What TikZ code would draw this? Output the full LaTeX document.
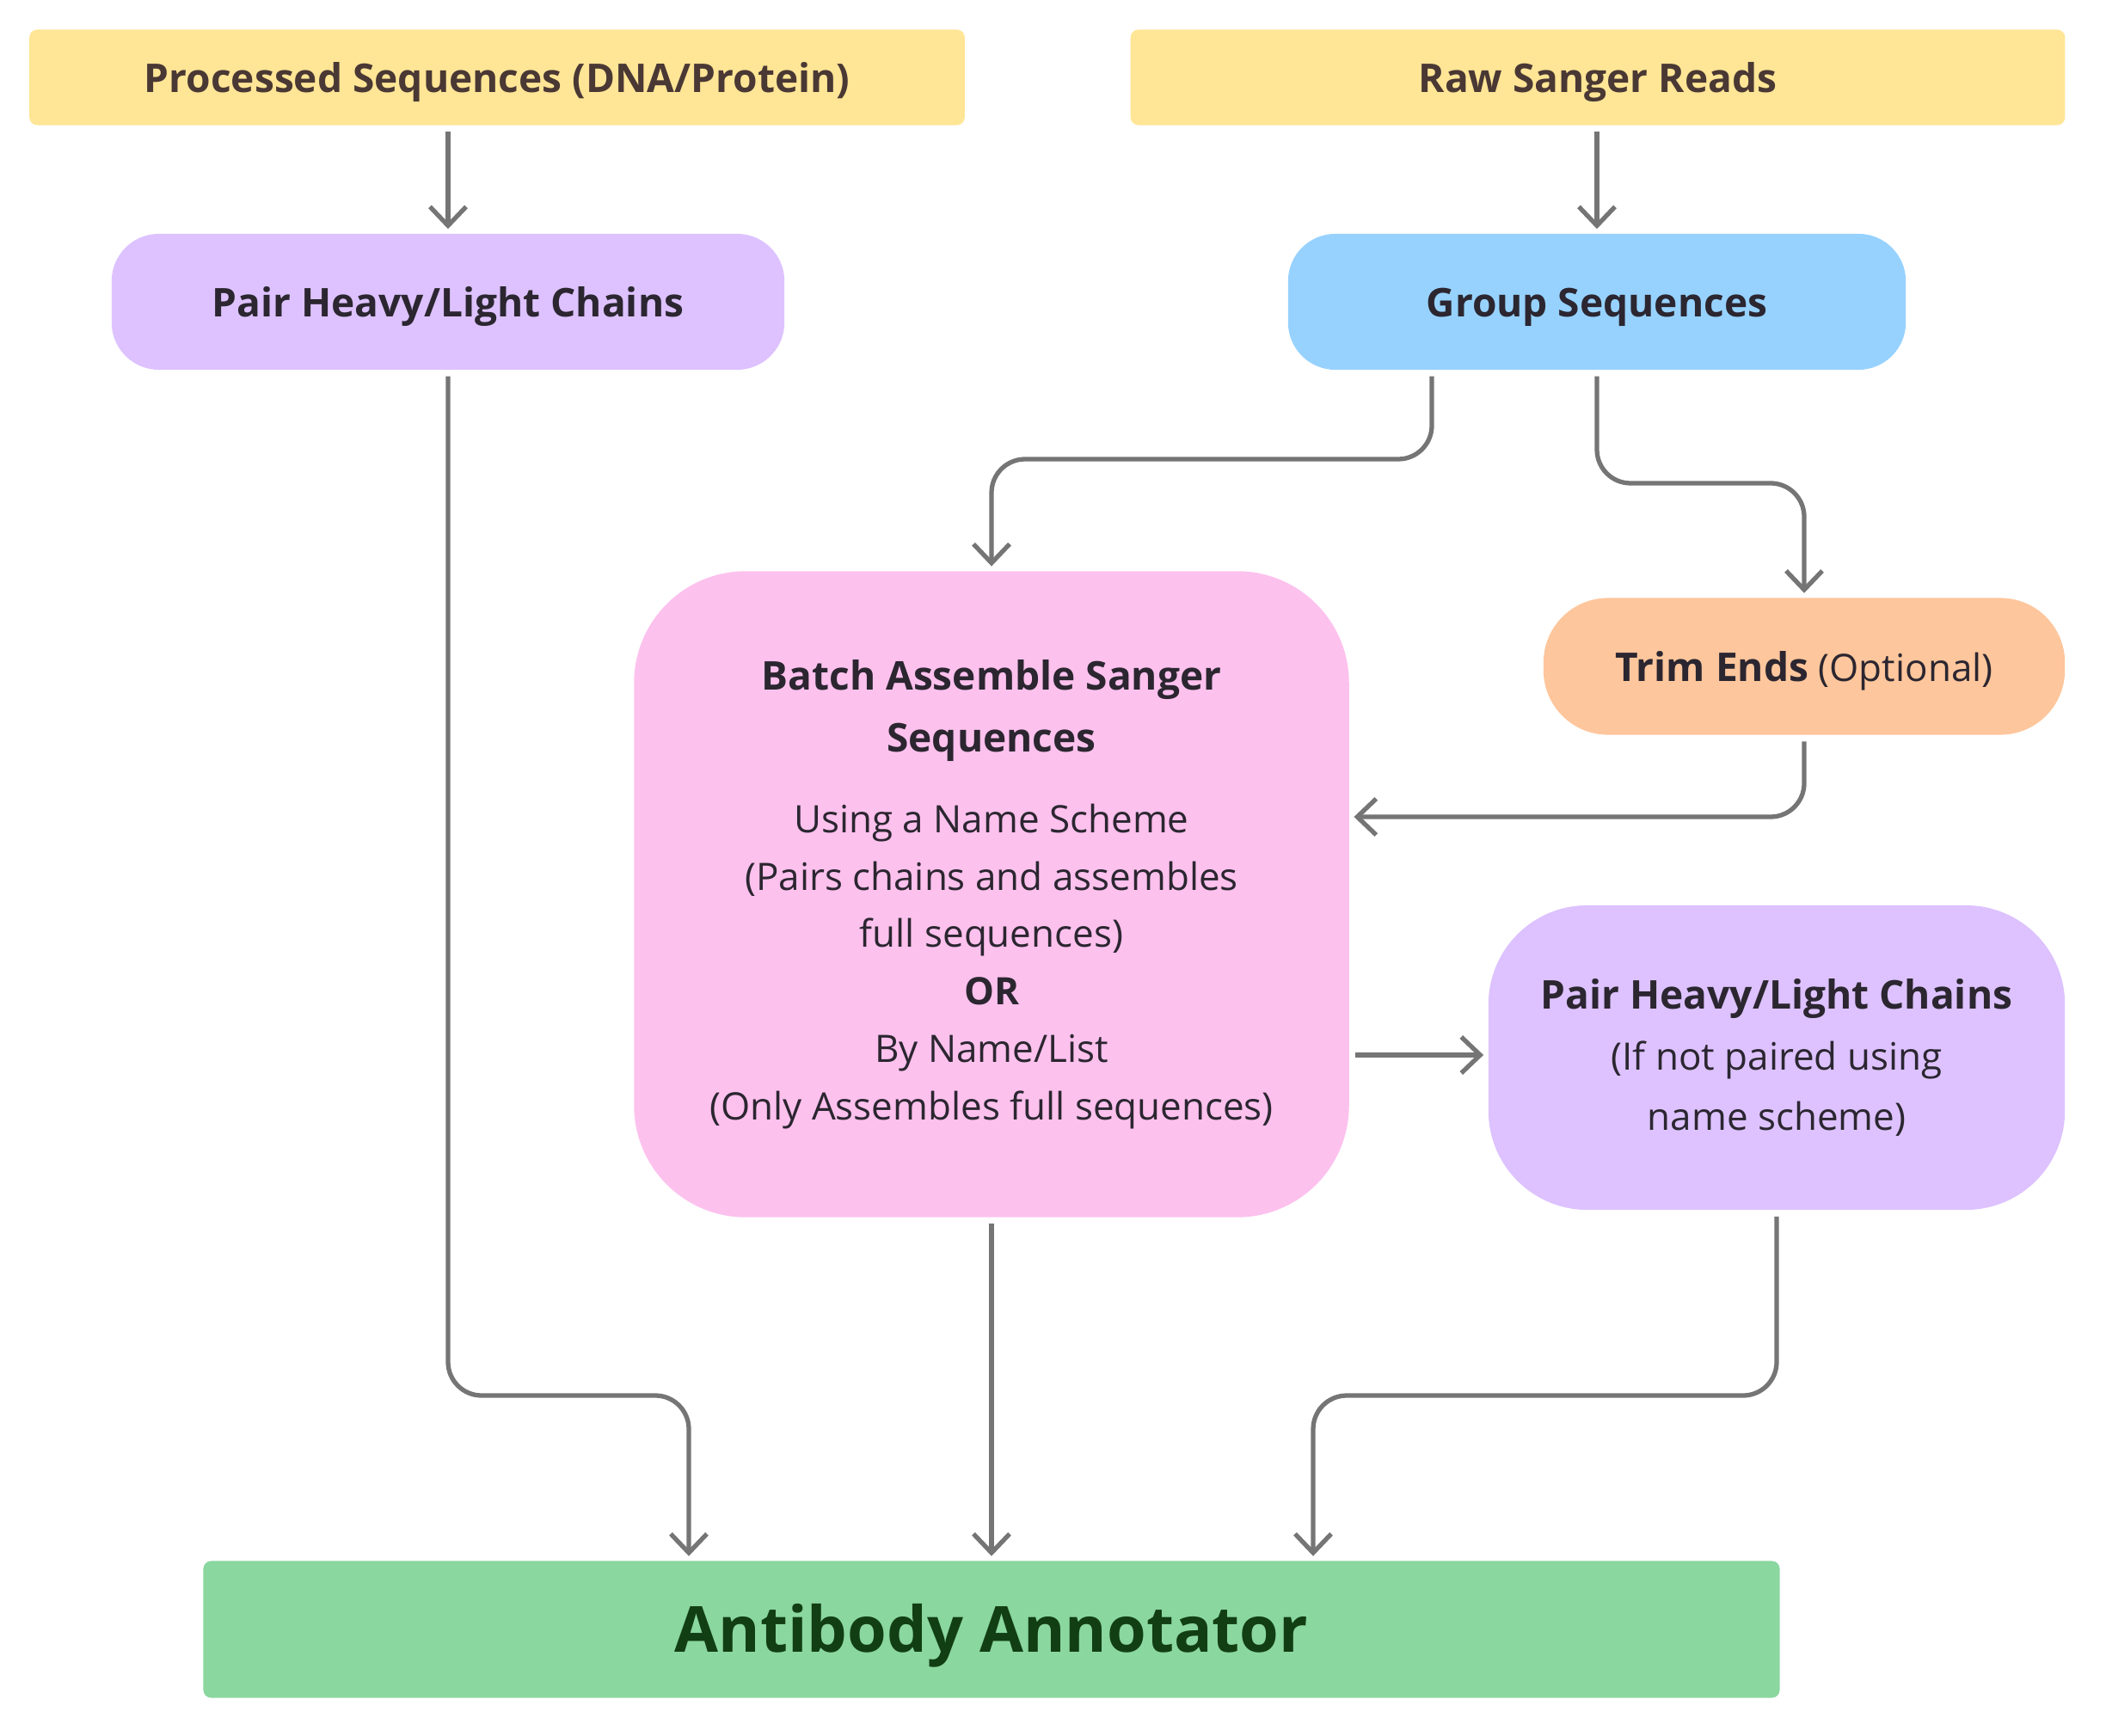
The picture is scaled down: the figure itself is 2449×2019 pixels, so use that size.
\documentclass[tikz,border=0pt]{standalone}
\usepackage{fontspec}
\setmainfont{Open Sans}
\usetikzlibrary{arrows.meta}
\definecolor{inyellow}{HTML}{FFE596}
\definecolor{lilac}{HTML}{DDC2FF}
\definecolor{sky}{HTML}{97D2FF}
\definecolor{blush}{HTML}{FDC1EE}
\definecolor{peach}{HTML}{FEC69C}
\definecolor{mint}{HTML}{8AD79F}
\definecolor{wire}{HTML}{757575}
\definecolor{ink}{HTML}{2B2630}
\newcommand{\hd}[1]{{\bfseries\fontsize{13.1}{20}\selectfont #1}}

\begin{document}
\begin{tikzpicture}[x=0.01cm,y=-0.01cm,line join=round,
    stage/.style={inner sep=0pt,align=center,text=ink,
      font=\fontsize{12.5}{20}\selectfont},
    oneline/.style={text height=9.8pt,text depth=0pt},
    inbox/.style={stage,oneline,fill=inyellow,rounded corners=0.9mm,
      minimum height=1.11cm,text=ink!80!brown},
    conn/.style={draw=wire,line width=1.5pt,rounded corners=3.9mm,
      -{Straight Barb[length=2.2mm,width=4.2mm,line width=1.5pt]},
      shorten <=0.7mm,shorten >=0.5mm}]
    \useasboundingbox (0,0) rectangle (2449,2019);
    % inputs
    \node[inbox,minimum width=10.87cm] (psq) at (578,90) {\hd{Processed Sequences (DNA/Protein)}};
    \node[inbox,minimum width=10.86cm] (raw) at (1858,90) {\hd{Raw Sanger Reads}};
    % steps
    \node[stage,oneline,fill=lilac,minimum width=7.82cm,minimum height=1.58cm,rounded corners=5.5mm]
      (pl) at (521,351) {\hd{Pair Heavy/Light Chains}};
    \node[stage,oneline,fill=sky,minimum width=7.18cm,minimum height=1.58cm,rounded corners=5.5mm]
      (grp) at (1857,351) {\hd{Group Sequences}};
    \node[stage,oneline,fill=peach,minimum width=6.06cm,minimum height=1.59cm,rounded corners=7.5mm]
      (trim) at (2098,775) {\hd{Trim Ends} (Optional)};
    \node[stage,fill=blush,minimum width=8.31cm,minimum height=7.51cm,rounded corners=13mm]
      (bat) at (1153,1040) {\hd{Batch Assemble Sanger}\\[0.7pt]
      \hd{Sequences}\\[6.6pt]
      Using a Name Scheme\\[-1pt](Pairs chains and assembles\\[-1pt]full sequences)\\[-1pt]
      \textbf{OR}\\[-1pt]By Name/List\\[-1pt](Only Assembles full sequences)};
    \node[stage,fill=lilac,minimum width=6.70cm,minimum height=3.54cm,rounded corners=11.5mm]
      (pr) at (2066,1230) {\hd{Pair Heavy/Light Chains}\\(If not paired using\\name scheme)};
    \node[stage,fill=mint,minimum width=18.32cm,minimum height=1.59cm,rounded corners=0.9mm,
      text height=15.2pt,text depth=0pt,
      text=ink!70!green!60!black,font=\bfseries\fontsize{21}{25}\selectfont]
      (ann) at (1153,1895) {Antibody Annotator};
    % flow
    \draw[conn] (psq.south -| pl.north) -- (pl.north);
    \draw[conn] (raw.south -| grp.north) -- (grp.north);
    \draw[conn] (1665,0 |- grp.south) |- (1153,534) -- (bat.north);
    \draw[conn] (grp.south) |- (2098,562) -- (trim.north);
    \draw[conn] (trim.south) |- (bat.east |- 0,950);
    \draw[conn] (bat.east |- 0,1227) -- (pr.west |- 0,1227);
    \draw[conn] (pl.south) |- (801,1623) -- (801,0 |- ann.north);
    \draw[conn] (bat.south) -- (ann.north);
    \draw[conn] (pr.south) |- (1527,1623) -- (1527,0 |- ann.north);
\end{tikzpicture}
\end{document}
